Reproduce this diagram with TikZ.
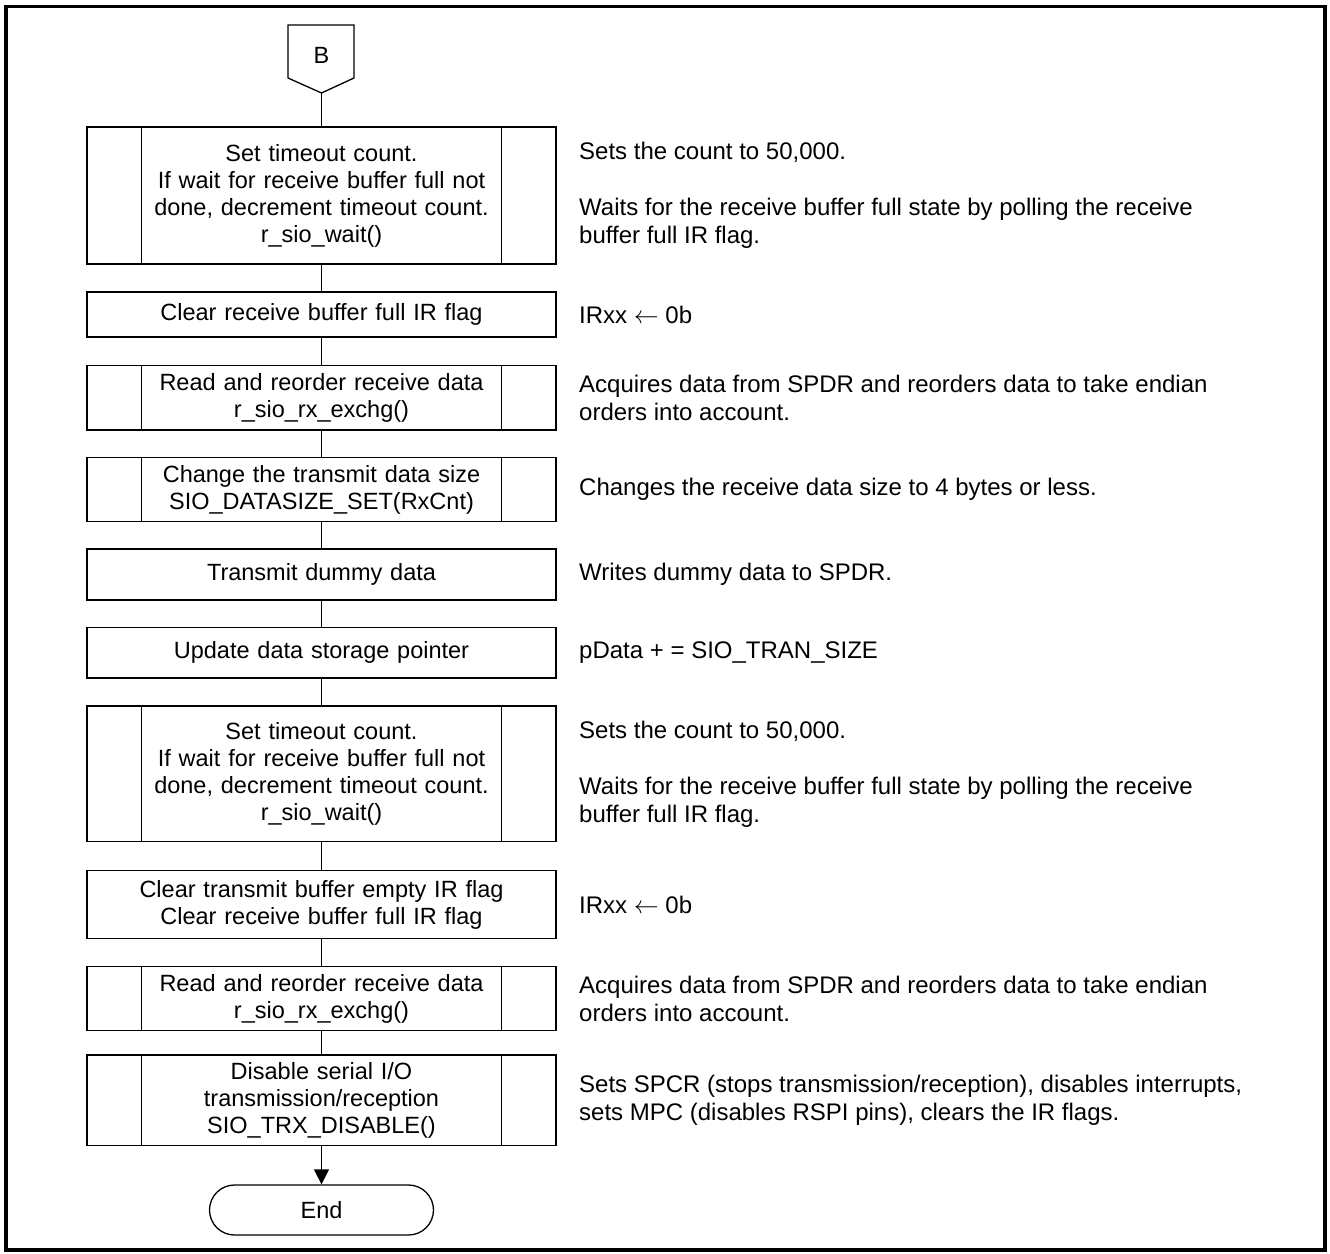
\documentclass[tikz,border=0pt]{standalone}
\usepackage{fontspec}
\setmainfont{Liberation Sans}
\usetikzlibrary{arrows.meta}
\begin{document}
\begin{tikzpicture}[x=1pt,y=-1pt,
  every node/.style={font=\fontsize{23.5pt}{27pt}\selectfont, inner sep=0pt},
  proc/.style={draw, line width=1.3pt, minimum width=469pt, align=center, text width=440pt},
  sub/.style={proc, text width=350pt, path picture={
      \draw[line width=1.3pt] ([xshift=54.5pt]path picture bounding box.north west) -- ([xshift=54.5pt]path picture bounding box.south west);
      \draw[line width=1.3pt] ([xshift=-54.5pt]path picture bounding box.north east) -- ([xshift=-54.5pt]path picture bounding box.south east);}},
  note/.style={anchor=west, align=left, font=\fontsize{24pt}{28pt}\selectfont},
  conn/.style={line width=1.3pt},
  term/.style={draw, line width=1.3pt, minimum width=224pt, minimum height=50pt, rounded corners=25pt}
]
\useasboundingbox (0,0) rectangle (1330,1253);
\draw[line width=3.5pt] (6,6.5) rectangle (1325,1250);

% off-page connector B
\draw[line width=1.3pt] (288,25) -- (354,25) -- (354,78) -- (321.5,93) -- (288,78) -- cycle;
\node (B) at (321.5,55) {B};
\coordinate (Btip) at (321.5,93);

\node[sub, minimum height=137pt] (b1) at (321.5,195.5) {Set timeout count.\\If wait for receive buffer full not\\done, decrement timeout count.\\r\_sio\_wait()};
\node[proc, minimum height=45pt] (b2) at (321.5,314.5) {Clear receive buffer full IR flag};
\node[sub, minimum height=64.5pt] (b3) at (321.5,397.7) {Read and reorder receive data\\r\_sio\_rx\_exchg()};
\node[sub, minimum height=64pt] (b4) at (321.5,489.7) {Change the transmit data size\\SIO\_DATASIZE\_SET(RxCnt)};
\node[proc, minimum height=51pt] (b5) at (321.5,574.5) {Transmit dummy data};
\node[proc, minimum height=50.3pt] (b6) at (321.5,652.8) {Update data storage pointer};
\node[sub, minimum height=135.7pt] (b7) at (321.5,773.8) {Set timeout count.\\If wait for receive buffer full not\\done, decrement timeout count.\\r\_sio\_wait()};
\node[proc, minimum height=67.6pt] (b8) at (321.5,904.5) {Clear transmit buffer empty IR flag\\Clear receive buffer full IR flag};
\node[sub, minimum height=64pt] (b9) at (321.5,998.7) {Read and reorder receive data\\r\_sio\_rx\_exchg()};
\node[sub, minimum height=90.7pt] (b10) at (321.5,1100.3) {Disable serial I/O\\transmission/reception\\SIO\_TRX\_DISABLE()};
\node[term] (end) at (321.5,1210) {End};

\draw[conn] (Btip) -- (b1);
\draw[conn] (b1) -- (b2);
\draw[conn] (b2) -- (b3);
\draw[conn] (b3) -- (b4);
\draw[conn] (b4) -- (b5);
\draw[conn] (b5) -- (b6);
\draw[conn] (b6) -- (b7);
\draw[conn] (b7) -- (b8);
\draw[conn] (b8) -- (b9);
\draw[conn] (b9) -- (b10);
\draw[conn, -{Triangle[length=15pt,width=15pt]}] (b10) -- (end);

% notes
\node[note] (r1) at (579,195.5) {Sets the count to 50,000.\\[28pt]Waits for the receive buffer full state by polling the receive\\buffer full IR flag.};
\node[note] (r2) at (579,314.5) {IRxx $\leftarrow$ 0b};
\node[note] (r3) at (579,397.7) {Acquires data from SPDR and reorders data to take endian\\orders into account.};
\node[note] (r4) at (579,489.7) {Changes the receive data size to 4 bytes or less.};
\node[note] (r5) at (579,574.5) {Writes dummy data to SPDR.};
\node[note] (r6) at (579,652.8) {pData + = SIO\_TRAN\_SIZE};
\node[note] (r7) at (579,773.8) {Sets the count to 50,000.\\[28pt]Waits for the receive buffer full state by polling the receive\\buffer full IR flag.};
\node[note] (r8) at (579,904.5) {IRxx $\leftarrow$ 0b};
\node[note] (r9) at (579,998.7) {Acquires data from SPDR and reorders data to take endian\\orders into account.};
\node[note] (r10) at (579,1100.3) {Sets SPCR (stops transmission/reception), disables interrupts,\\sets MPC (disables RSPI pins), clears the IR flags.};
\end{tikzpicture}
\end{document}
